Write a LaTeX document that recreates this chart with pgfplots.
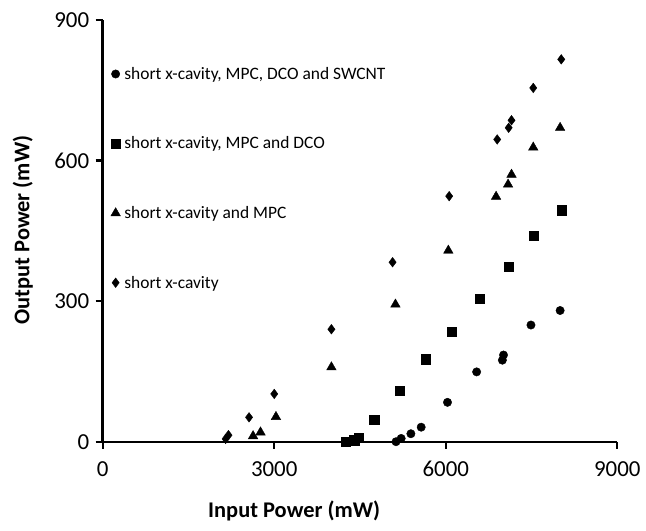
\documentclass[border=0pt]{standalone}
\usepackage{pgfplots}
\pgfplotsset{compat=1.18}
\usepackage{fontspec}
\setmainfont{Carlito}
\begin{document}
\begin{tikzpicture}
\begin{axis}[
  scale only axis,
  width=514.6bp, height=421.7bp,
  xmin=0, xmax=9000, ymin=0, ymax=900,
  axis lines=left,
  axis line style={line width=2.4bp, -},
  xtick={0,3000,6000,9000}, ytick={0,300,600,900},
  tick align=outside, tick pos=left,
  major tick length=7bp,
  tick style={line width=2.2bp, black},
  /pgf/number format/assume math mode=true,
  /pgf/number format/1000 sep={},
  ticklabel style={font=\fontsize{23}{27}\selectfont},
  xticklabel style={yshift=-9bp},
  yticklabel style={xshift=-3bp},
  xlabel={Input Power (mW)},
  ylabel={Output Power (mW)},
  label style={font=\fontsize{22.5}{27}\selectfont\bfseries},
  xlabel style={at={(axis description cs:0.372,0)}, anchor=center, yshift=-69bp},
  ylabel style={at={(axis description cs:0,0.502)}, anchor=center, yshift=80bp},
  clip=false,
  legend style={at={(axis description cs:0,1)}, anchor=north west, xshift=5bp, yshift=-43bp,
    draw=none, fill=none, font=\fontsize{17.5}{21}\selectfont, row sep=52bp,
    legend cell align=left, nodes={inner xsep=4bp}},
  legend image code/.code={\draw[mark repeat=2,mark phase=2,#1] plot coordinates {(0bp,0bp) (6bp,0bp) (12bp,0bp)};},
]
\addplot[only marks, mark=*, mark size=4.2bp, black] coordinates {
(5130,0) (5220,7) (5390,17) (5570,31) (6030,84) (6540,149) (6990,174) (7010,185) (7490,249) (8000,280)};
\addlegendentry{short x-cavity, MPC, DCO and SWCNT}
\addplot[only marks, mark=square*, mark size=4.6bp, black] coordinates {
(4250,0) (4400,3) (4480,8) (4750,47) (5200,108) (5655,176) (6110,235) (6600,305) (7100,374) (7540,439) (8030,494)};
\addlegendentry{short x-cavity, MPC and DCO}
\addplot[only marks, mark=triangle*, mark size=5.5bp, black] coordinates {
(2630,12) (2760,20) (3030,53) (4000,159) (5120,293) (6045,408) (6880,523) (7090,549) (7150,570) (7530,628) (8000,670)};
\addlegendentry{short x-cavity and MPC}
\addplot[only marks, mark=diamond*, mark size=4.8bp, black] coordinates {
(2150,6) (2200,14) (2560,52) (3000,102) (4000,240) (5070,383) (6060,524) (6900,645) (7100,670) (7150,686) (7530,755) (8020,816)};
\addlegendentry{short x-cavity}
\end{axis}
\pgfresetboundingbox
\path (-102.7bp,-89.3bp) rectangle (543.3bp,441.7bp);
\end{tikzpicture}
\end{document}
